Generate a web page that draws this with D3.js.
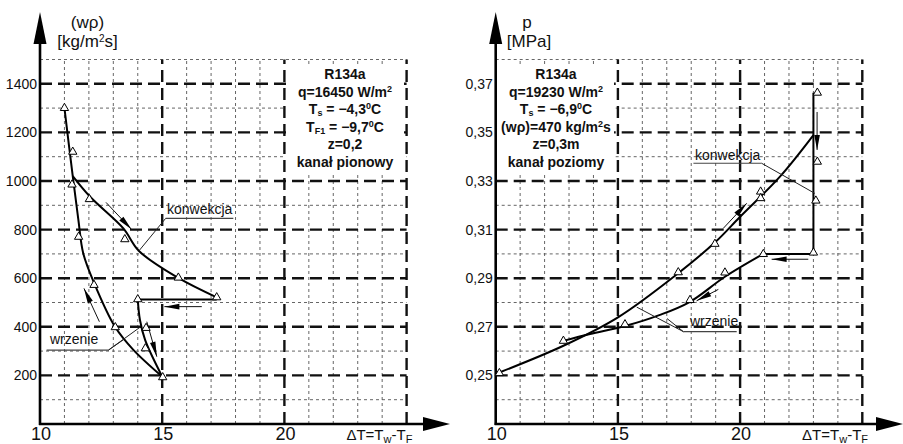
<!DOCTYPE html>
<html>
<head>
<meta charset="utf-8">
<script src="https://cdn.jsdelivr.net/npm/d3@7"></script>
<style>
  body { margin: 0; background: #fff; }
  svg { display: block; }
  text { font-family: "Liberation Sans", Arial, sans-serif; fill: #111; }
</style>
</head>
<body>
<svg id="chart" width="903" height="444"></svg>
<script>
// ---------- shared ----------
const xTicks = [10, 15, 20];

// ---------- left panel: mass flux (wρ) vs ΔT, vertical channel ----------
const leftYTicks = [200, 400, 600, 800, 1000, 1200, 1400];
const leftMarkers = [
  [11.0, 1300], [11.34, 1120], [11.31, 985], [12.02, 925], [11.58, 770],
  [13.47, 760], [15.66, 602], [17.23, 521], [14.0, 513], [12.21, 572],
  [13.08, 398], [14.34, 395], [14.31, 311], [15.02, 192]
];
const leftBoilingCurve = [
  [11.0, 1300], [11.34, 1020], [11.57, 840], [11.77, 702], [12.22, 579],
  [13.07, 400], [13.82, 305], [15.0, 195]
];
const leftConvectionCurve = [
  [11.34, 1020], [12.05, 935], [13.41, 805], [14.05, 712], [15.66, 601], [17.23, 521]
];
const leftStep = [[17.23, 512], [14.0, 512]];
const leftLowerCurve = [[14.0, 512], [14.09, 428], [14.3, 346], [15.0, 195]];
const leftArrows = [
  [[12.7, 912], [13.75, 800]],
  [[16.62, 483], [15.09, 483]],
  [[12.43, 421], [11.8, 558]],
  [[14.37, 421], [14.78, 277]]
];
const leftInfo = [
  [["R134a"]],
  [["q=16450 W/m"], ["2", "sup"]],
  [["T"], ["s", "sub"], [" = \u22124,3"], ["0", "sup"], ["C"]],
  [["T"], ["F1", "sub"], [" = \u22129,7"], ["0", "sup"], ["C"]],
  [["z=0,2"]],
  [["kanał pionowy"]]
];

// ---------- right panel: pressure p vs ΔT, horizontal channel ----------
const rightYTicks = [0.25, 0.27, 0.29, 0.31, 0.33, 0.35, 0.37];
const rightMarkers = [
  [23.16, 0.3663], [23.16, 0.3379], [23.1, 0.3219], [20.84, 0.3256], [20.84, 0.3229],
  [18.97, 0.3041], [20.95, 0.2999], [23.0, 0.3005], [17.47, 0.2924], [19.38, 0.2923],
  [17.95, 0.2810], [15.29, 0.2710], [12.77, 0.2642], [10.15, 0.2509]
];
const rightUpperCurve = [
  [10.15, 0.2512], [12.77, 0.2622], [15.02, 0.2740], [17.4, 0.2915],
  [19.0, 0.3050], [20.0, 0.3153], [21.63, 0.3318], [23.0, 0.3489]
];
const rightVertical = [[23.0, 0.3663], [23.0, 0.3000]];
const rightStep = [[23.0, 0.3000], [20.95, 0.3000]];
const rightLowerCurve = [
  [20.95, 0.3000], [19.38, 0.2906], [17.95, 0.2803], [16.72, 0.2749],
  [15.29, 0.2703], [13.86, 0.2670], [12.77, 0.2642]
];
const rightArrows = [
  [[23.15, 0.3584], [23.15, 0.3428]],
  [[22.79, 0.2978], [21.29, 0.2978]],
  [[19.11, 0.2854], [18.22, 0.2807]],
  [[19.31, 0.3105], [20.27, 0.3208]]
];
const rightInfo = [
  [["R134a"]],
  [["q=19230 W/m"], ["2", "sup"]],
  [["T"], ["s", "sub"], [" = \u22126,9"], ["0", "sup"], ["C"]],
  [["(wρ)=470 kg/m"], ["2", "sup"], ["s"]],
  [["z=0,3m"]],
  [["kanał poziomy"]]
];

const svg = d3.select("#chart");
const lineGen = (x, y) => d3.line().x(d => x(d[0])).y(d => y(d[1])).curve(d3.curveCatmullRom.alpha(0.5));
const straight = (x, y) => d3.line().x(d => x(d[0])).y(d => y(d[1]));

function arrow(g, x, y, p0, p1) {
  const x0 = x(p0[0]), y0 = y(p0[1]), x1 = x(p1[0]), y1 = y(p1[1]);
  g.append("line").attr("x1", x0).attr("y1", y0).attr("x2", x1).attr("y2", y1)
    .attr("stroke", "#111").attr("stroke-width", 1);
  const a = Math.atan2(y1 - y0, x1 - x0), L = 15, W = 2.8;
  const bx = x1 - L * Math.cos(a), by = y1 - L * Math.sin(a);
  g.append("polygon")
    .attr("points", [[x1, y1], [bx + W * Math.sin(a), by - W * Math.cos(a)], [bx - W * Math.sin(a), by + W * Math.cos(a)]].join(" "))
    .attr("fill", "#000");
}

function infoBlock(g, cx, top, lines) {
  lines.forEach((segs, i) => {
    const t = g.append("text").attr("x", cx).attr("y", top + i * 17.5)
      .attr("text-anchor", "middle").attr("font-size", 14).attr("font-weight", "bold");
    let shift = 0;
    segs.forEach(([s, kind]) => {
      const target = kind === "sup" ? -5 : kind === "sub" ? 2 : 0;
      t.append("tspan").attr("dy", target - shift)
        .attr("font-size", kind ? 9 : 14).text(s);
      shift = target;
    });
  });
}

function panel(cfg) {
  const x = d3.scaleLinear().domain([10, 25]).range([cfg.x0, cfg.x0 + 366.6]);
  const y = d3.scaleLinear().domain(cfg.yDomain).range([424, 59.5]);
  const g = svg.append("g");
  const [ylo, yhi] = cfg.yDomain;

  // minor dotted grid
  d3.range(11, 25).filter(v => v % 5 !== 0).forEach(v => {
    g.append("line").attr("x1", x(v)).attr("x2", x(v)).attr("y1", y(ylo)).attr("y2", y(yhi))
      .attr("stroke", "#555").attr("stroke-width", 0.9).attr("stroke-dasharray", "3,3");
  });
  cfg.minorY.forEach(v => {
    g.append("line").attr("x1", x(10)).attr("x2", x(25)).attr("y1", y(v)).attr("y2", y(v))
      .attr("stroke", "#555").attr("stroke-width", 0.9).attr("stroke-dasharray", "3,3");
  });
  // major dashed grid
  [15, 20, 25].forEach(v => {
    g.append("line").attr("x1", x(v)).attr("x2", x(v)).attr("y1", y(ylo)).attr("y2", y(yhi))
      .attr("stroke", "#111").attr("stroke-width", 2.4).attr("stroke-dasharray", "12,6");
  });
  cfg.yTicks.forEach(v => {
    g.append("line").attr("x1", x(10)).attr("x2", x(25)).attr("y1", y(v)).attr("y2", y(v))
      .attr("stroke", "#111").attr("stroke-width", 2.4).attr("stroke-dasharray", "12,6");
  });

  // info box
  g.append("rect").attr("x", cfg.box[0]).attr("y", 66).attr("width", cfg.box[1] - cfg.box[0])
    .attr("height", 106).attr("fill", "#fff");
  infoBlock(g, cfg.boxCx, 79, cfg.info);

  // axes with arrow heads
  const ax = x(10), ay = y(ylo);
  g.append("line").attr("x1", ax).attr("y1", ay + 1).attr("x2", ax).attr("y2", 40)
    .attr("stroke", "#000").attr("stroke-width", 2.6);
  g.append("polygon").attr("points", [[ax, 12], [ax - 6.5, 44], [ax + 6.5, 44]].join(" ")).attr("fill", "#000");
  g.append("line").attr("x1", ax - 1).attr("y1", ay).attr("x2", cfg.xTip - 20).attr("y2", ay)
    .attr("stroke", "#000").attr("stroke-width", 2.6);
  g.append("polygon").attr("points", [[cfg.xTip, ay], [cfg.xTip - 27, ay - 7], [cfg.xTip - 27, ay + 7]].join(" ")).attr("fill", "#000");

  // tick labels
  const yAxis = d3.axisLeft(y).tickValues(cfg.yTicks).tickSize(0).tickPadding(3).tickFormat(cfg.yFormat);
  const ya = g.append("g").attr("transform", `translate(${ax},0)`).call(yAxis);
  ya.select(".domain").remove();
  ya.selectAll("text").attr("font-size", 14).attr("font-family", "Liberation Sans, Arial, sans-serif").attr("fill", "#111");
  xTicks.forEach(v => {
    g.append("text").attr("x", x(v) + 1).attr("y", 440).attr("text-anchor", "middle")
      .attr("font-size", 18).text(v);
  });
  const dt = g.append("text").attr("x", x(20) + 62).attr("y", 440).attr("font-size", 15);
  dt.append("tspan").text("\u0394T=T");
  dt.append("tspan").attr("dy", 3).attr("font-size", 11).text("w");
  dt.append("tspan").attr("dy", -3).text("-T");
  dt.append("tspan").attr("dy", 3).attr("font-size", 11).text("F");

  // axis titles
  cfg.titles.forEach(([segs, tx, ty]) => {
    const t = g.append("text").attr("x", tx).attr("y", ty).attr("text-anchor", "middle").attr("font-size", 17);
    segs.forEach(([s, kind]) => {
      t.append("tspan").attr("dy", kind === "sup" ? -5 : kind === "back" ? 5 : 0)
        .attr("font-size", kind === "sup" ? 10 : 17).text(s);
    });
  });

  // curves
  cfg.curves.forEach(c => {
    g.append("path").attr("d", lineGen(x, y)(c)).attr("fill", "none")
      .attr("stroke", "#000").attr("stroke-width", 2);
  });
  cfg.straights.forEach(c => {
    g.append("path").attr("d", straight(x, y)(c)).attr("fill", "none")
      .attr("stroke", "#000").attr("stroke-width", 2);
  });

  // leaders and labels
  cfg.labels.forEach(lb => {
    g.append("text").attr("x", lb.tx).attr("y", lb.ty).attr("font-size", 14).text(lb.text);
    g.append("line").attr("x1", x(lb.under[0])).attr("x2", x(lb.under[1]))
      .attr("y1", y(lb.under[2])).attr("y2", y(lb.under[2]))
      .attr("stroke", "#444").attr("stroke-width", 1.2);
    lb.leaders.forEach(p => {
      g.append("line").attr("x1", x(lb.from[0])).attr("y1", y(lb.from[1]))
        .attr("x2", x(p[0])).attr("y2", y(p[1])).attr("stroke", "#222").attr("stroke-width", 1);
    });
  });

  // direction arrows
  cfg.arrows.forEach(a => arrow(g, x, y, a[0], a[1]));

  // measured points
  g.selectAll("path.mk").data(cfg.markers).join("path").attr("class", "mk")
    .attr("d", d3.symbol(d3.symbolTriangle).size(30))
    .attr("transform", d => `translate(${x(d[0])},${y(d[1])})`)
    .attr("fill", "#fff").attr("stroke", "#000").attr("stroke-width", 1);
}

panel({
  x0: 40, xTip: 450, yDomain: [0, 1500], yTicks: leftYTicks,
  minorY: [100, 300, 500, 700, 900, 1100, 1300, 1500],
  yFormat: d => String(d),
  box: [286, 404], boxCx: 345, info: leftInfo,
  titles: [
    [[["(wρ)"]], 87.5, 28],
    [[["[kg/m"], ["2", "sup"], ["s]", "back"]], 87.5, 47]
  ],
  curves: [leftBoilingCurve, leftConvectionCurve, leftLowerCurve],
  straights: [leftStep],
  labels: [
    { text: "konwekcja", tx: 167, ty: 214, under: [15.14, 17.91, 846], from: [15.14, 846], leaders: [[14.02, 709]] },
    { text: "wrzenie", tx: 50, ty: 344, under: [10.27, 12.8, 304], from: [12.8, 304], leaders: [[14.09, 398], [13.46, 350]] }
  ],
  arrows: leftArrows, markers: leftMarkers
});

panel({
  x0: 495.7, xTip: 903, yDomain: [0.23, 0.38], yTicks: rightYTicks,
  minorY: [0.24, 0.26, 0.28, 0.30, 0.32, 0.34, 0.36, 0.38],
  yFormat: d => d.toFixed(2).replace(".", ","),
  box: [497, 614], boxCx: 556, info: rightInfo,
  titles: [
    [[["p"]], 527, 28],
    [[["[MPa]"]], 529, 47]
  ],
  curves: [rightUpperCurve, rightLowerCurve],
  straights: [rightVertical, rightStep],
  labels: [
    { text: "konwekcja", tx: 695, ty: 160, under: [18.09, 20.88, 0.3373], from: [20.88, 0.3373], leaders: [[23.06, 0.3249]] },
    { text: "wrzenie", tx: 690, ty: 326, under: [17.68, 19.86, 0.268], from: [17.68, 0.268], leaders: [[15.77, 0.2781], [17.01, 0.2734]] }
  ],
  arrows: rightArrows, markers: rightMarkers
});
</script>
</body>
</html>
